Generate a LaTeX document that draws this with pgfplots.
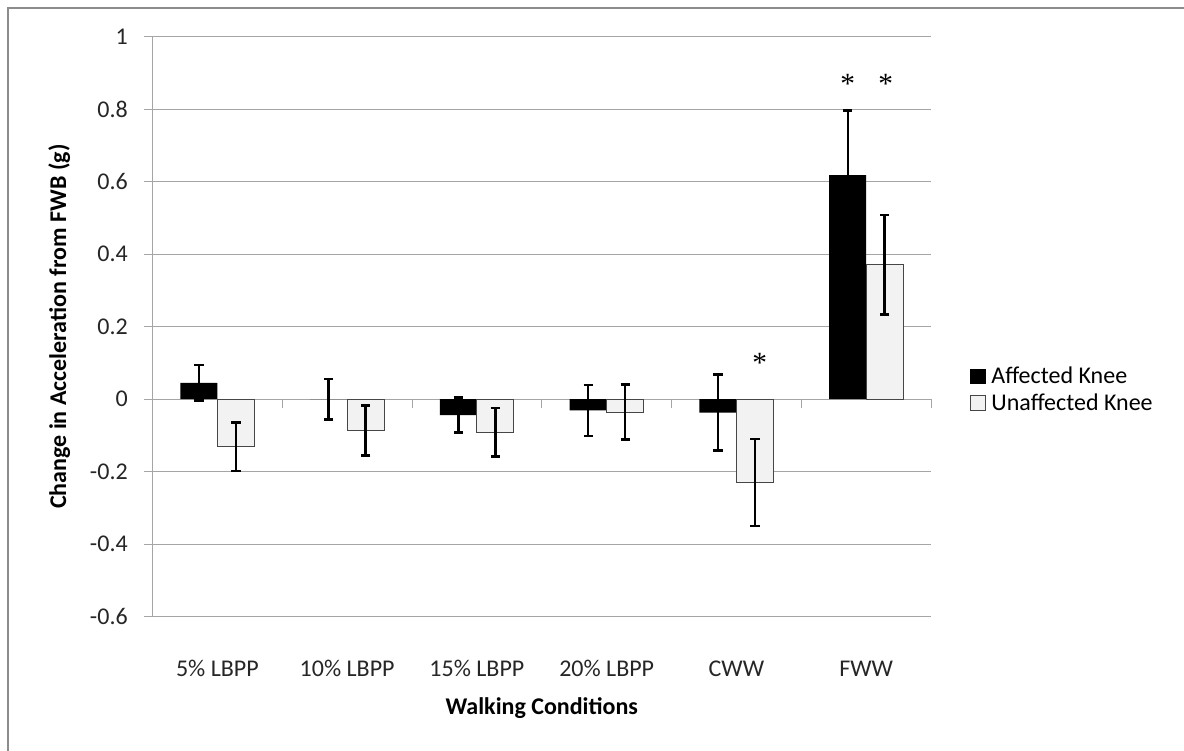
\documentclass[border=0pt]{standalone}
\usepackage{pgfplots}
\usepackage{pgfplotstable}
\pgfplotsset{compat=1.18}
\usepackage{fontspec}
\setmainfont{Carlito}
\newfontfamily\asterfont{Liberation Serif}
\definecolor{gridgray}{RGB}{165,165,165}
\definecolor{bordergray}{RGB}{140,140,140}
\definecolor{lightbar}{RGB}{242,242,242}
\definecolor{baredge}{RGB}{70,70,70}

\pgfplotstableread{
x val err
0 0.045 0.049
1 0.000 0.056
2 -0.044 0.048
3 -0.031 0.070
4 -0.037 0.105
5 0.618 0.178
}\affected
\pgfplotstableread{
x val err
0 -0.131 0.067
1 -0.087 0.069
2 -0.091 0.067
3 -0.036 0.076
4 -0.230 0.120
5 0.371 0.137
}\unaffected

\begin{document}
\begin{tikzpicture}
\useasboundingbox (-114.4pt,-100.5pt) rectangle (773.6pt,462.4pt);
\draw[bordergray, line width=1.5pt] (-108.75pt,-102pt) -- (-108.75pt,456.75pt) -- (776pt,456.75pt);
\begin{axis}[
  at={(0pt,0pt)}, anchor=south west,
  scale only axis, width=583.9pt, height=434.85pt,
  xmin=-0.5, xmax=5.5, ymin=-0.6, ymax=1,
  axis lines=left, axis line style={gridgray, line width=0.75pt, -},
  ytick={-0.6,-0.4,-0.2,0,0.2,0.4,0.6,0.8,1},
  ymajorgrids, grid style={gridgray, line width=0.75pt},
  xtick={0,1,2,3,4,5},
  xticklabels={5\% LBPP, 10\% LBPP, 15\% LBPP, 20\% LBPP, CWW, FWW},
  x tick style={draw=none},
  y tick style={gridgray, line width=0.75pt},
  tick align=outside, major tick length=6.4pt,
  /pgf/number format/assume math mode=true,
  tick label style={font=\fontsize{18}{21.6}\selectfont, text=black!85},
  yticklabel style={anchor=east, inner sep=0pt, xshift=-12pt},
  xticklabel style={anchor=center, inner sep=0pt, yshift=-32.6pt},
  xlabel={Walking Conditions},
  xlabel style={font=\bfseries\fontsize{18}{21.6}\selectfont, at={(axis description cs:0.5,-0.158)}, anchor=center},
  ylabel={Change in Acceleration from FWB (g)},
  ylabel style={font=\bfseries\fontsize{18}{21.6}\selectfont, at={(axis description cs:-0.1199,0.5)}, anchor=center},
  ybar, bar width=0.285,
  legend style={draw=none, fill=none, at={(axis description cs:1.05,0.391)}, anchor=west,
    font=\fontsize{18}{21.6}\selectfont, inner sep=0pt, row sep=2pt,
    legend cell align=left},
  legend image code/.code={\draw[#1, line width=0.75pt] (0pt,-5.6pt) rectangle (11.2pt,5.6pt);
    \path[draw=none, fill=none] (0pt,0pt) rectangle (13.5pt,0.1pt);},
  clip=false,
]
\addplot[fill=black, draw=none, bar shift=-0.1425,
  error bars/.cd, y dir=both, y explicit,
  error bar style={line width=1.8pt, black},
  error mark options={rotate=90, line width=1.8pt, black, mark size=3.5pt}]
  table[x=x, y=val, y error=err]{\affected};
\addlegendentry{Affected Knee}
\addplot[fill=lightbar, draw=baredge, line width=0.75pt, bar shift=0.1425,
  error bars/.cd, y dir=both, y explicit,
  error bar style={line width=1.8pt, black},
  error mark options={rotate=90, line width=1.8pt, black, mark size=3.5pt}]
  table[x=x, y=val, y error=err]{\unaffected};
\addlegendentry{Unaffected Knee}
\pgfplotsinvokeforeach{-0.5,0.5,1.5,2.5,3.5,4.5,5.5}{
  \draw[gridgray, line width=0.75pt] (axis cs:#1,0) -- ++(0pt,-6.75pt);
}
\node[font=\asterfont\fontsize{22}{24}\selectfont] at (axis cs:4.18,0.10) {*};
\node[font=\asterfont\fontsize{22}{24}\selectfont] at (axis cs:4.8575,0.87) {*};
\node[font=\asterfont\fontsize{22}{24}\selectfont] at (axis cs:5.15,0.87) {*};
\end{axis}
\end{tikzpicture}
\end{document}
